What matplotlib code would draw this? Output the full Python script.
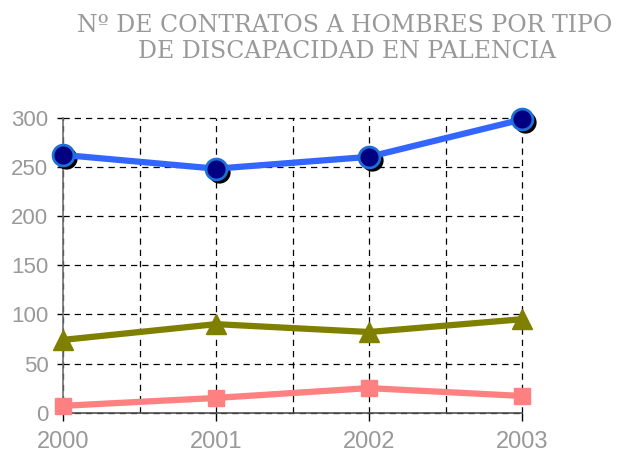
import numpy as np
import matplotlib.pyplot as plt
from matplotlib.ticker import MultipleLocator
from matplotlib.transforms import offset_copy

# contratos a hombres por tipo de discapacidad, Palencia
years = [2000, 2001, 2002, 2003]
serie_azul = [262, 248, 260, 298]
serie_oliva = [74, 90, 82, 95]
serie_rosa = [7, 15, 25, 17]

fig = plt.figure(figsize=(6.17, 4.54), dpi=100)
ax = fig.add_axes([63 / 617, (454 - 412.7) / 454, (522 - 63) / 617, (412.7 - 117.5) / 454])

ax.set_xlim(2000, 2003)
ax.set_ylim(0, 300)

# grid
ax.xaxis.set_major_locator(MultipleLocator(1))
ax.xaxis.set_minor_locator(MultipleLocator(0.5))
ax.yaxis.set_major_locator(MultipleLocator(50))
ax.grid(True, which="both", color="black", linestyle=(0, (5, 4)), linewidth=0.9)
ax.set_axisbelow(True)
for t in ax.xaxis.get_minor_ticks() + ax.xaxis.get_major_ticks() + ax.yaxis.get_major_ticks():
    t.gridline.set_clip_on(False)

for s in ["top", "right"]:
    ax.spines[s].set_visible(False)
ax.spines["left"].set_color("#707070")
ax.spines["bottom"].set_color("#505050")
ax.spines["left"].set_linewidth(1.2)
ax.spines["bottom"].set_linewidth(1.2)

ax.tick_params(axis="y", length=4.5, width=1, color="black", labelsize=16,
               labelcolor="#999999", pad=6)
ax.tick_params(axis="x", which="major", length=5.5, width=1, color="black",
               labelsize=17, labelcolor="#999999", pad=8)
ax.tick_params(axis="x", which="minor", length=0)
ax.set_xticks(years)
ax.set_xticklabels([str(y) for y in years])
for lab in ax.get_xticklabels() + ax.get_yticklabels():
    lab.set_fontfamily("Liberation Sans")

# shadowed circles for the top series
sombra = offset_copy(ax.transData, fig=fig, x=3, y=-3, units="dots")
ax.plot(years, serie_azul, linestyle="none", marker="o", markersize=15,
        color="black", transform=sombra, zorder=3, clip_on=False)
ax.plot(years, serie_azul, color="#3366FF", linewidth=4.5, marker="o",
        markersize=15, markerfacecolor="#000080", markeredgecolor="#1E6FD8",
        markeredgewidth=2, zorder=4, clip_on=False)
ax.plot(years, serie_oliva, color="#808000", linewidth=4.5, marker="^",
        markersize=14, zorder=4, clip_on=False)
ax.plot(years, serie_rosa, color="#FF8080", linewidth=4.5, marker="s",
        markersize=12, zorder=4, clip_on=False)

fig.text(345 / 617, 1 - 25 / 454, "Nº DE CONTRATOS A HOMBRES POR TIPO",
         ha="center", va="center", fontsize=17, color="#999999",
         fontfamily="DejaVu Serif")
fig.text(347 / 617, 1 - 52 / 454, "DE DISCAPACIDAD EN PALENCIA",
         ha="center", va="center", fontsize=17, color="#999999",
         fontfamily="DejaVu Serif")

fig.savefig("out.png", dpi=100)
